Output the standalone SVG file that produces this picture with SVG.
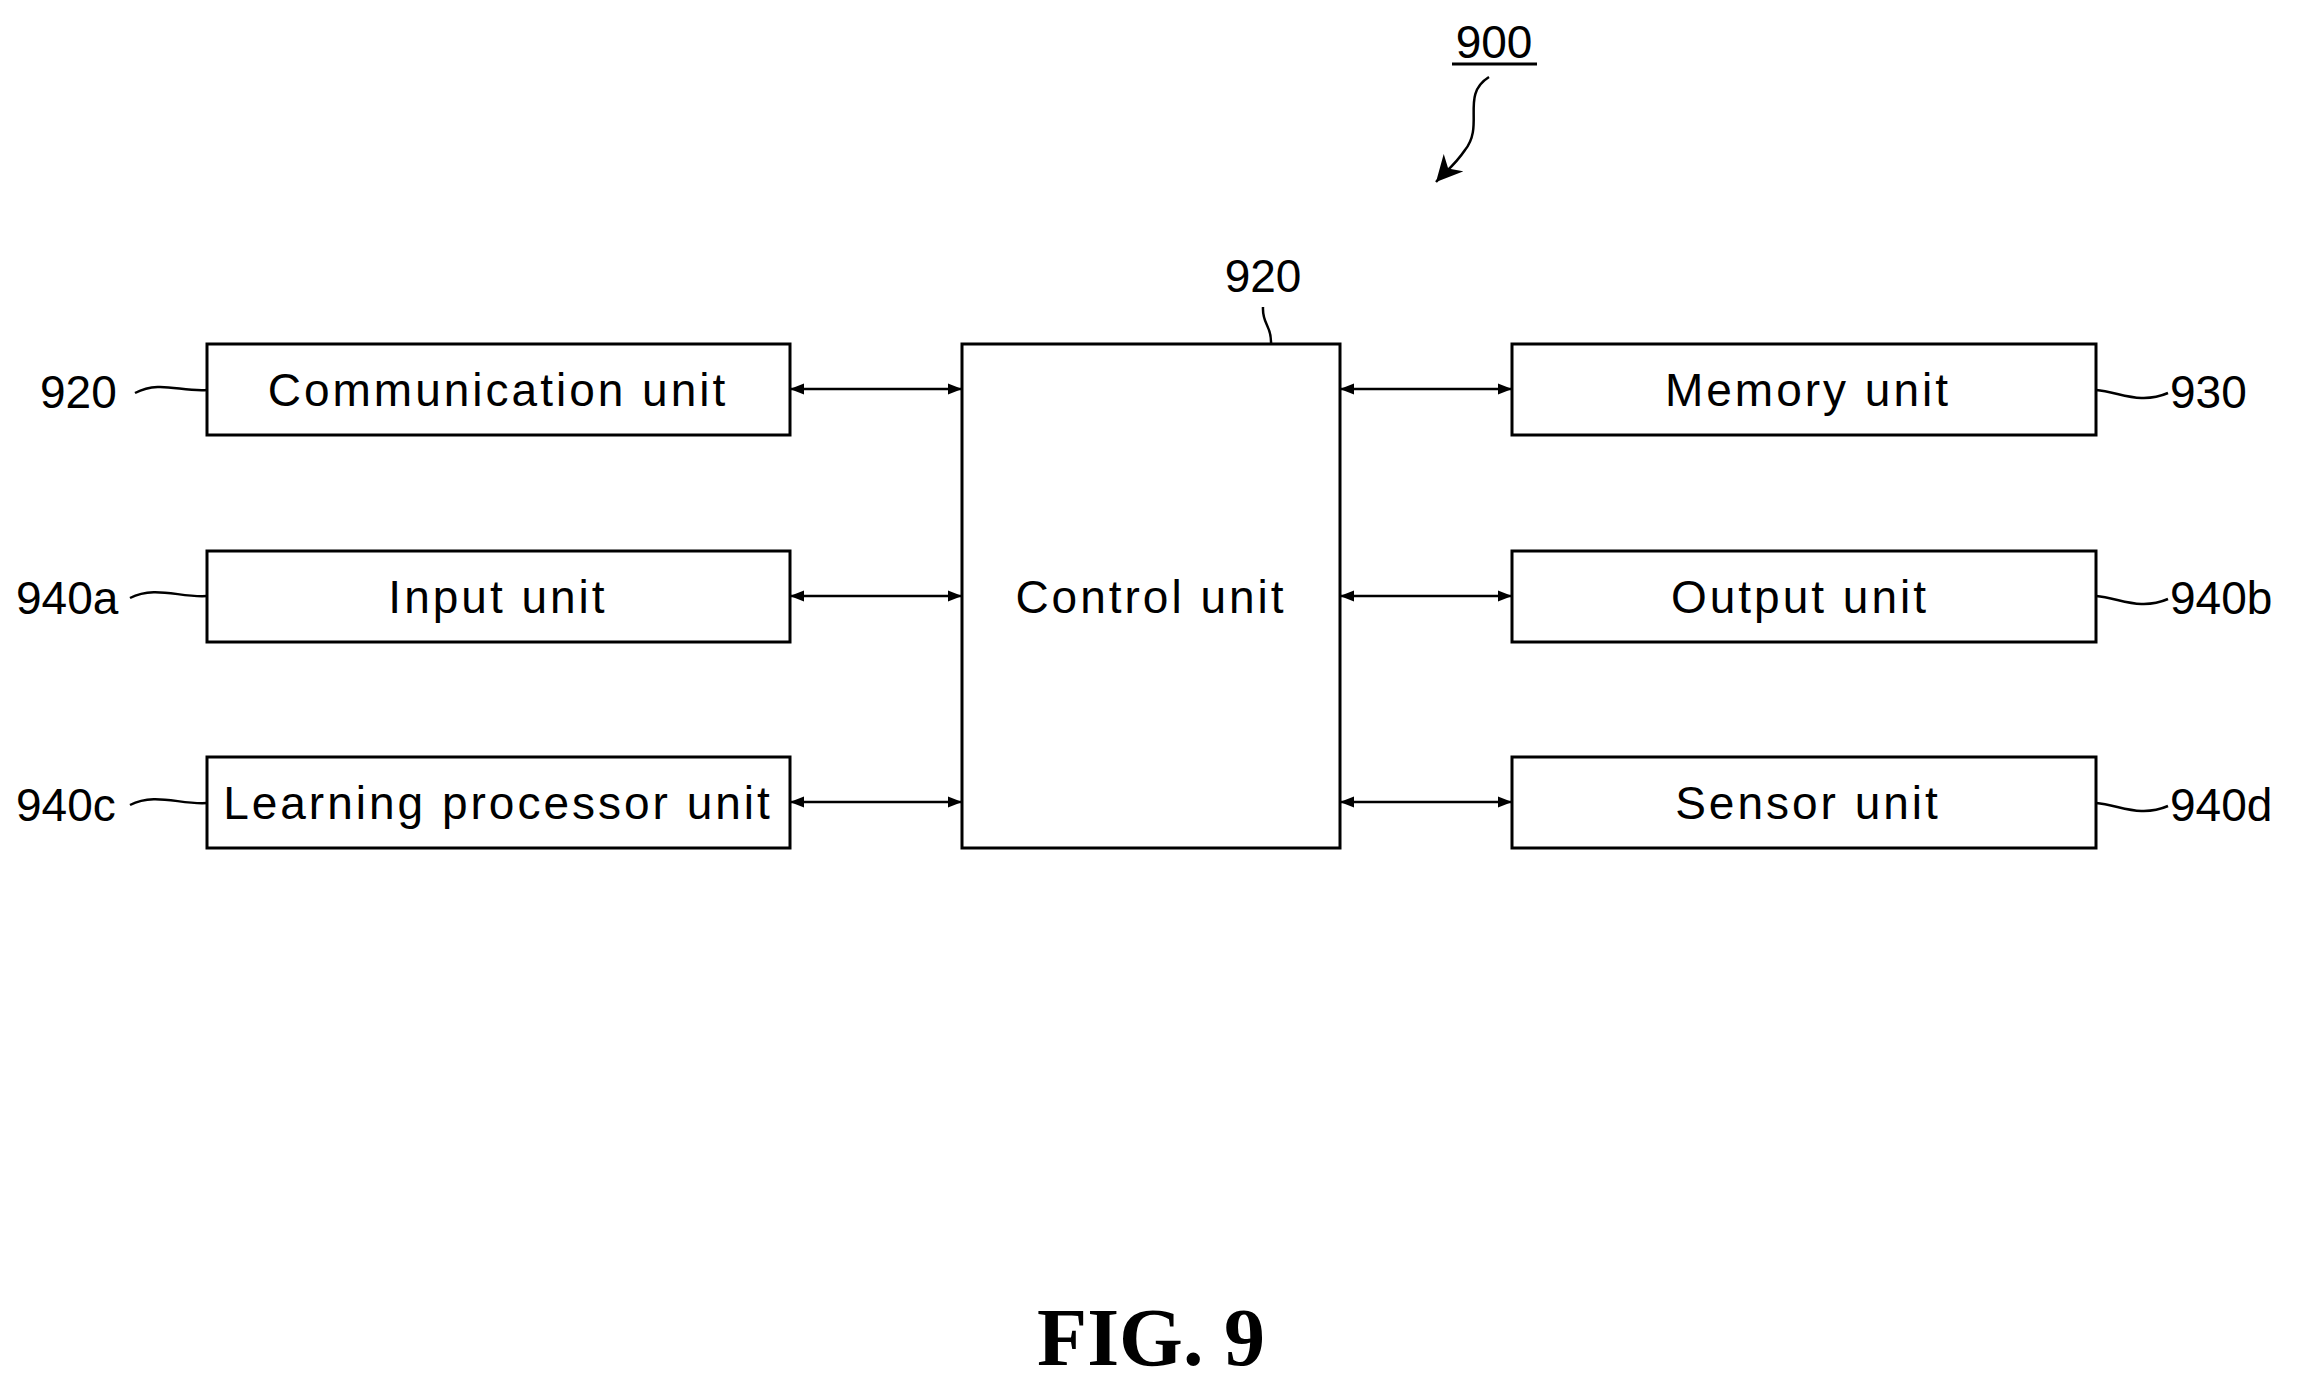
<svg xmlns="http://www.w3.org/2000/svg" width="2297" height="1391" viewBox="0 0 2297 1391">
<defs>
<style>
.box{fill:#fff;stroke:#000;stroke-width:3}
.t{font-family:"Liberation Sans",Arial,sans-serif;font-size:46px;letter-spacing:3px;text-anchor:middle;dominant-baseline:central}
.l{font-family:"Liberation Sans",Arial,sans-serif;font-size:46px;dominant-baseline:central}
.c{stroke:#000;stroke-width:2.5;fill:none}
</style>
<marker id="a" viewBox="0 0 10 10" refX="10" refY="5" markerWidth="16" markerHeight="14" orient="auto-start-reverse" markerUnits="userSpaceOnUse"><path d="M0,1L10,5L0,9z" fill="#000"/></marker>
<marker id="a2" viewBox="0 0 10 10" refX="10" refY="5" markerWidth="26" markerHeight="26" orient="auto" markerUnits="userSpaceOnUse"><path d="M0,0L10,5L0,10L3,5z" fill="#000"/></marker>
</defs>
<rect width="2297" height="1391" fill="#fff"/>
<g id="n900"><text class="l" x="1494" y="42" text-anchor="middle">900</text><line x1="1452" y1="64" x2="1537" y2="64" stroke="#000" stroke-width="3"/></g>
<g id="control"><rect class="box" x="962" y="344" width="378" height="504"/><text class="t" x="1151" y="597">Control unit</text><text class="l" x="1263" y="276" text-anchor="middle">920</text></g>
<g id="comm"><rect class="box" x="207" y="344" width="583" height="91"/><text class="t" x="498" y="390">Communication unit</text><text class="l" x="40" y="392">920</text></g>
<g id="input"><rect class="box" x="207" y="551" width="583" height="91"/><text class="t" x="498" y="597">Input unit</text><text class="l" x="16" y="598">940a</text></g>
<g id="learn"><rect class="box" x="207" y="757" width="583" height="91"/><text class="t" x="498" y="803">Learning processor unit</text><text class="l" x="16" y="805">940c</text></g>
<g id="mem"><rect class="box" x="1512" y="344" width="584" height="91"/><text class="t" x="1808" y="390">Memory unit</text><text class="l" x="2170" y="392">930</text></g>
<g id="out"><rect class="box" x="1512" y="551" width="584" height="91"/><text class="t" x="1800" y="597">Output unit</text><text class="l" x="2170" y="598">940b</text></g>
<g id="sens"><rect class="box" x="1512" y="757" width="584" height="91"/><text class="t" x="1808" y="803">Sensor unit</text><text class="l" x="2170" y="805">940d</text></g>
<g id="connectors">
<line class="c" x1="790" y1="389" x2="962" y2="389" marker-start="url(#a)" marker-end="url(#a)"/>
<line class="c" x1="790" y1="596" x2="962" y2="596" marker-start="url(#a)" marker-end="url(#a)"/>
<line class="c" x1="790" y1="802" x2="962" y2="802" marker-start="url(#a)" marker-end="url(#a)"/>
<line class="c" x1="1340" y1="389" x2="1512" y2="389" marker-start="url(#a)" marker-end="url(#a)"/>
<line class="c" x1="1340" y1="596" x2="1512" y2="596" marker-start="url(#a)" marker-end="url(#a)"/>
<line class="c" x1="1340" y1="802" x2="1512" y2="802" marker-start="url(#a)" marker-end="url(#a)"/>
<path class="c" d="M135,393 C160,380 180,392 207,390"/>
<path class="c" d="M130,598 C155,585 180,598 207,596"/>
<path class="c" d="M130,805 C155,792 180,805 207,803"/>
<path class="c" d="M2096,390 C2120,392 2140,405 2168,393"/>
<path class="c" d="M2096,596 C2120,598 2140,611 2168,599"/>
<path class="c" d="M2096,803 C2120,805 2140,818 2168,806"/>
<path class="c" d="M1263,307 C1262,325 1272,325 1271,344"/>
<path class="c" d="M1489,77 C1460,95 1485,125 1465,150 C1455,165 1445,172 1436,182" marker-end="url(#a2)"/>
</g>
<text x="1151" y="1365" text-anchor="middle" font-family="Liberation Serif,serif" font-weight="bold" font-size="82">FIG. 9</text>
</svg>
